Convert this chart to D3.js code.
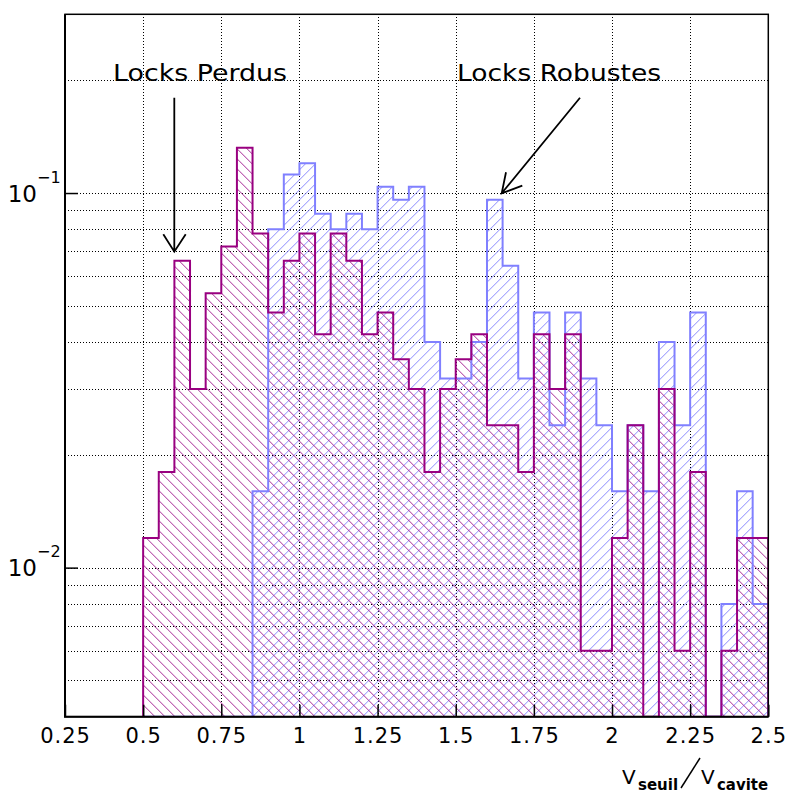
<!DOCTYPE html>
<html>
<head>
<meta charset="utf-8">
<script src="https://cdn.jsdelivr.net/npm/d3@7"></script>
<style>
  body { margin: 0; background: #fff; }
  svg { display: block; }
  text { font-family: "DejaVu Sans", sans-serif; fill: #000; }
</style>
</head>
<body>
<svg width="788" height="793"></svg>
<script>
// bins (lower edges), width 0.05
const binLow = [0.50, 0.55, 0.60, 0.65, 0.70, 0.75, 0.80, 0.85, 0.90, 0.95,
                1.00, 1.05, 1.10, 1.15, 1.20, 1.25, 1.30, 1.35, 1.40, 1.45,
                1.50, 1.55, 1.60, 1.65, 1.70, 1.75, 1.80, 1.85, 1.90, 1.95,
                2.00, 2.05, 2.10, 2.15, 2.20, 2.25, 2.30, 2.35, 2.40, 2.45];
const binWidth = 0.05;

// Locks Perdus (violet)
const perdus = [0.012, 0.018, 0.066, 0.030, 0.054, 0.072, 0.132, 0.078, 0.048, 0.066,
                0.078, 0.042, 0.078, 0.066, 0.042, 0.048, 0.036, 0.030, 0.018, 0.030,
                0.036, 0.042, 0.024, 0.024, 0.018, 0.042, 0.030, 0.042, 0.006, 0.006,
                0.012, 0.024, 0,     0.030, 0.006, 0.018, 0,     0.006, 0.012, 0.012];

// Locks Robustes (bleu)
const robustes = [0, 0, 0, 0, 0, 0, 0, 0.016, 0.080, 0.112,
                  0.120, 0.088, 0.080, 0.088, 0.080, 0.104, 0.096, 0.104, 0.040, 0.032,
                  0.032, 0.040, 0.096, 0.064, 0.032, 0.048, 0.024, 0.048, 0.032, 0.024,
                  0.016, 0.024, 0.016, 0.040, 0.024, 0.048, 0, 0.008, 0.016, 0.008];

const xMajor = [0.25, 0.5, 0.75, 1, 1.25, 1.5, 1.75, 2, 2.25, 2.5];
const xTickLabels = ["0.25", "0.5", "0.75", "1", "1.25", "1.5", "1.75", "2", "2.25", "2.5"];
const xMinor = [0.3, 0.35, 0.4, 0.45, 0.55, 0.6, 0.65, 0.7, 0.8, 0.85, 0.9, 0.95,
                1.05, 1.1, 1.15, 1.2, 1.3, 1.35, 1.4, 1.45, 1.55, 1.6, 1.65, 1.7,
                1.8, 1.85, 1.9, 1.95, 2.05, 2.1, 2.15, 2.2, 2.3, 2.35, 2.4, 2.45];
const yMajor = [0.01, 0.1];
const yMajorExp = ["\u22122", "\u22121"];
const yMinor = [0.005, 0.006, 0.007, 0.008, 0.009,
                0.02, 0.03, 0.04, 0.05, 0.06, 0.07, 0.08, 0.09, 0.2];

const colPerdus = "#990080", colRobustes = "#8080ff";

const svg = d3.select("svg");
const plot = { left: 65, right: 768.3, top: 14.3, bottom: 716.7 };

const x = d3.scaleLinear().domain([0.25, 2.5]).range([plot.left, plot.right]);
const y = d3.scaleLog().domain([0.004, 0.3]).range([plot.bottom, plot.top]);

const defs = svg.append("defs");
defs.append("clipPath").attr("id", "clip")
  .append("rect")
  .attr("x", plot.left).attr("y", plot.top)
  .attr("width", plot.right - plot.left).attr("height", plot.bottom - plot.top);

// grille (pointillés calés sur les pixels)
const px = v => Math.round(v) + 0.5;
const grid = svg.append("g")
  .attr("stroke", "#000").attr("stroke-width", 1).attr("stroke-dasharray", "1,2");
grid.selectAll(".vg").data(xMajor.slice(1, -1)).enter().append("line")
  .attr("x1", d => px(x(d))).attr("x2", d => px(x(d)))
  .attr("y1", Math.round(plot.top)).attr("y2", plot.bottom);
grid.selectAll(".hg").data(yMinor.concat(yMajor)).enter().append("line")
  .attr("x1", plot.left).attr("x2", plot.right)
  .attr("y1", d => px(y(d))).attr("y2", d => px(y(d)));

// histogrammes
const yv = v => v > 0 ? y(v) : plot.bottom;
function stepPoints(vals) {
  const pts = [[binLow[0], 0]];
  vals.forEach((v, i) => {
    pts.push([binLow[i], v]);
    pts.push([binLow[i] + binWidth, v]);
  });
  pts.push([binLow[binLow.length - 1] + binWidth, 0]);
  return pts;
}
const line = d3.line().x(d => x(d[0])).y(d => yv(d[1]));

// hachures : lignes diagonales coupees par la forme de l'histogramme
function hatchFill(parent, id, vals, color, dir) {
  defs.append("clipPath").attr("id", id)
    .append("path").attr("d", line(stepPoints(vals)) + "Z");
  const g = parent.append("g").attr("clip-path", `url(#${id})`)
    .attr("stroke", color).attr("stroke-width", 1);
  const step = 10, H = plot.bottom - plot.top;
  for (let c = plot.left - H; c < plot.right + H; c += step) {
    if (dir === "back") {
      g.append("line").attr("x1", c).attr("y1", plot.top).attr("x2", c + H).attr("y2", plot.bottom);
    } else {
      g.append("line").attr("x1", c + H).attr("y1", plot.top).attr("x2", c).attr("y2", plot.bottom);
    }
  }
}

const hist = svg.append("g").attr("clip-path", "url(#clip)");
hatchFill(hist, "cRobustes", robustes, "#8a8aff", "fwd");
hatchFill(hist, "cPerdus", perdus, "#a82896", "back");

[{ vals: robustes, color: colRobustes }, { vals: perdus, color: colPerdus }].forEach(s => {
  hist.append("path").attr("d", line(stepPoints(s.vals)))
    .attr("fill", "none").attr("stroke", s.color).attr("stroke-width", 2);
});

// axes
const xAxisG = svg.append("g").attr("transform", `translate(0,${plot.bottom})`);
xAxisG.call(d3.axisBottom(x).tickValues(xMinor).tickSize(-6).tickFormat(""));
xAxisG.call(d3.axisBottom(x).tickValues(xMajor).tickSize(-12).tickPadding(11)
  .tickFormat((d, i) => xTickLabels[i]));
xAxisG.selectAll(".domain").remove();
xAxisG.selectAll("line").attr("stroke", "#000").attr("stroke-width", 1.5);
xAxisG.selectAll("text")
  .style("font-family", "DejaVu Sans").style("font-size", "21px")
  .style("letter-spacing", "1px");

const yAxisG = svg.append("g").attr("transform", `translate(${plot.left},0)`);
yAxisG.call(d3.axisLeft(y).tickValues(yMinor).tickSize(-7).tickFormat(""));
yAxisG.call(d3.axisLeft(y).tickValues(yMajor).tickSize(-13).tickFormat(""));
yAxisG.selectAll(".domain").remove();
yAxisG.selectAll("line").attr("stroke", "#000").attr("stroke-width", 1.5);

yMajor.forEach((v, i) => {
  svg.append("text").attr("x", 37).attr("y", y(v) + 8.5)
    .attr("text-anchor", "end").style("font-size", "23px").text("10");
  svg.append("text").attr("x", 37).attr("y", y(v) - 10.5)
    .style("font-size", "16px").text(yMajorExp[i]);
});

// cadre
svg.append("rect")
  .attr("x", plot.left).attr("y", plot.top)
  .attr("width", plot.right - plot.left).attr("height", plot.bottom - plot.top)
  .attr("fill", "none").attr("stroke", "#000").attr("stroke-width", 1.5);
svg.append("path")
  .attr("d", `M${plot.left},${plot.top} V${plot.bottom} H${plot.right}`)
  .attr("fill", "none").attr("stroke", "#000").attr("stroke-width", 2);

// titre axe x : V_seuil / V_cavite
const title = svg.append("g");
title.append("text").attr("x", 622).attr("y", 784).style("font-size", "20px").text("V");
title.append("text").attr("x", 638).attr("y", 790)
  .style("font-size", "15px").style("font-weight", "bold").text("seuil");
title.append("line").attr("x1", 681).attr("y1", 788).attr("x2", 700).attr("y2", 758)
  .attr("stroke", "#000").attr("stroke-width", 1.5);
title.append("text").attr("x", 701).attr("y", 784).style("font-size", "20px").text("V");
title.append("text").attr("x", 717).attr("y", 790)
  .attr("textLength", 51).attr("lengthAdjust", "spacingAndGlyphs")
  .style("font-size", "15px").style("font-weight", "bold").text("cavite");

// annotations
svg.append("text").attr("x", 113).attr("y", 81)
  .attr("textLength", 174).attr("lengthAdjust", "spacingAndGlyphs")
  .style("font-size", "23px").text("Locks Perdus");
svg.append("text").attr("x", 457).attr("y", 81)
  .attr("textLength", 204).attr("lengthAdjust", "spacingAndGlyphs")
  .style("font-size", "23px").text("Locks Robustes");

const arrows = svg.append("g").attr("stroke", "#000").attr("stroke-width", 1.8)
  .attr("fill", "none");
arrows.append("path").attr("d", "M174.3,97.7 L174.3,251.7 M163.3,234.3 L174.3,251.7 L185.7,234.3");
arrows.append("path").attr("d", "M580,97.7 L501.7,193.3 M506,172.3 L501.7,193.3 L522.3,185.7");
</script>
</body>
</html>
